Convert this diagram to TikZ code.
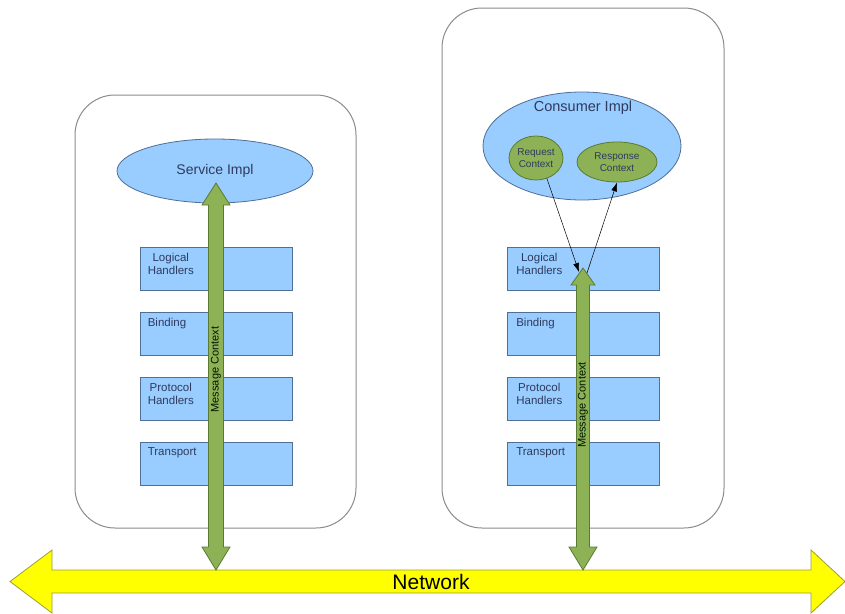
\documentclass[tikz,border=0pt]{standalone}
\usepackage{fontspec}
\setmainfont{Liberation Sans}
\usetikzlibrary{arrows.meta,shapes.geometric}
\definecolor{boxblue}{HTML}{99CCFF}
\definecolor{boxedge}{HTML}{4F6F96}
\definecolor{grn}{HTML}{8DB255}
\definecolor{grnedge}{HTML}{5A7A30}
\definecolor{ylw}{HTML}{FFFF00}
\definecolor{ylwedge}{HTML}{9C9C3C}
\definecolor{cont}{HTML}{8C8C8C}
\definecolor{txt}{HTML}{2E3B5E}
\begin{document}
\begin{tikzpicture}[x=1pt,y=-1pt,
  container/.style={draw=cont, line width=1pt, rounded corners=40pt, rectangle, inner sep=0pt},
  layerbox/.style={draw=boxedge, fill=boxblue, line width=0.8pt, rectangle, minimum width=152pt, minimum height=43pt, inner sep=0pt},
  layerlabel/.style={anchor=north west, align=center, font=\fontsize{11.5}{13.5}\selectfont, text=txt, inner sep=0pt},
  implell/.style={ellipse, draw=boxedge, fill=boxblue, line width=0.8pt, inner sep=0pt, font=\fontsize{14}{15}\selectfont, text=txt},
  ctxell/.style={ellipse, draw=grnedge, fill=grn, line width=0.8pt, inner sep=0pt, align=center, font=\fontsize{10}{11.5}\selectfont, text=txt},
  garrow/.style={draw=grnedge, fill=grn, line width=0.8pt, line join=miter},
  msglabel/.style={rotate=90, font=\fontsize{11}{12}\selectfont, text=black!80!green!40!black, inner sep=0pt},
  netarrow/.style={draw=ylwedge, fill=ylw, line width=0.8pt},
  thin/.style={draw=black, line width=0.5pt, -{Latex[length=9pt,width=6pt]}}
]
\useasboundingbox (0,0) rectangle (845,613);
\fill[white] (0,0) rectangle (845,613);

% containers
\node[container, minimum width=281pt, minimum height=433pt] (lcont) at (215.5,311.5) {};
\node[container, minimum width=282pt, minimum height=520pt] (rcont) at (583,268) {};

% network arrow
\draw[netarrow] (10,581.5) -- (52,550) -- (52,570) -- (811,570) -- (811,550) -- (845,581.5)
  -- (811,613) -- (811,593) -- (52,593) -- (52,613) -- cycle;
\node[font=\fontsize{21}{22}\selectfont, text=black, inner sep=0pt] (net) at (431,582) {Network};

% left side
\node[implell, minimum width=196pt, minimum height=64pt] (svc) at (215,171) {Service Impl};
\foreach \n/\y in {ll/268.5, lb/333.5, lp/398.5, lt/463.5}
  \node[layerbox] (\n) at (216,\y) {};
\node[layerlabel] (lllab) at ([xshift=8pt,yshift=-6pt]ll.north west) {Logical\\Handlers};
\node[layerlabel] (lblab) at ([xshift=8pt,yshift=-6pt]lb.north west) {Binding};
\node[layerlabel] (lplab) at ([xshift=8pt,yshift=-6pt]lp.north west) {Protocol\\Handlers};
\node[layerlabel] (ltlab) at ([xshift=8pt,yshift=-6pt]lt.north west) {Transport};

\draw[garrow] (216,183) -- (230,205) -- (223.5,205) -- (223.5,547) -- (230,547) -- (216,570)
  -- (202,547) -- (208.5,547) -- (208.5,205) -- (202,205) -- cycle;
\node[msglabel] (lmsg) at (216,369.5) {Message Context};

% right side
\node[implell, minimum width=198pt, minimum height=108pt] (cons) at (582,146) {};
\node[font=\fontsize{14.5}{15}\selectfont, text=txt, inner sep=0pt] (conslab) at (583,108) {Consumer Impl};
\node[ctxell, minimum width=54pt, minimum height=44pt] (req) at (536,158) {Request\\Context};
\node[ctxell, minimum width=80pt, minimum height=40pt] (resp) at (617,162) {Response\\Context};

\foreach \n/\y in {rl/268.5, rb/333.5, rp/398.5, rt/463.5}
  \node[layerbox] (\n) at (583.5,\y) {};
\node[layerlabel] (rllab) at ([xshift=9pt,yshift=-6pt]rl.north west) {Logical\\Handlers};
\node[layerlabel] (rblab) at ([xshift=9pt,yshift=-6pt]rb.north west) {Binding};
\node[layerlabel] (rplab) at ([xshift=9pt,yshift=-6pt]rp.north west) {Protocol\\Handlers};
\node[layerlabel] (rtlab) at ([xshift=9pt,yshift=-6pt]rt.north west) {Transport};

\draw[garrow] (583,268) -- (595,285) -- (589.5,285) -- (589.5,547) -- (597,547) -- (583,570)
  -- (569,547) -- (576.5,547) -- (576.5,285) -- (571,285) -- cycle;
\node[msglabel] (rmsg) at (583,405) {Message Context};

\coordinate (tipin) at (579,272);
\coordinate (tipout) at (587,273);
\draw[thin] (req.-62) -- (tipin);
\draw[thin] (tipout) -- (resp.south);
\end{tikzpicture}
\end{document}
